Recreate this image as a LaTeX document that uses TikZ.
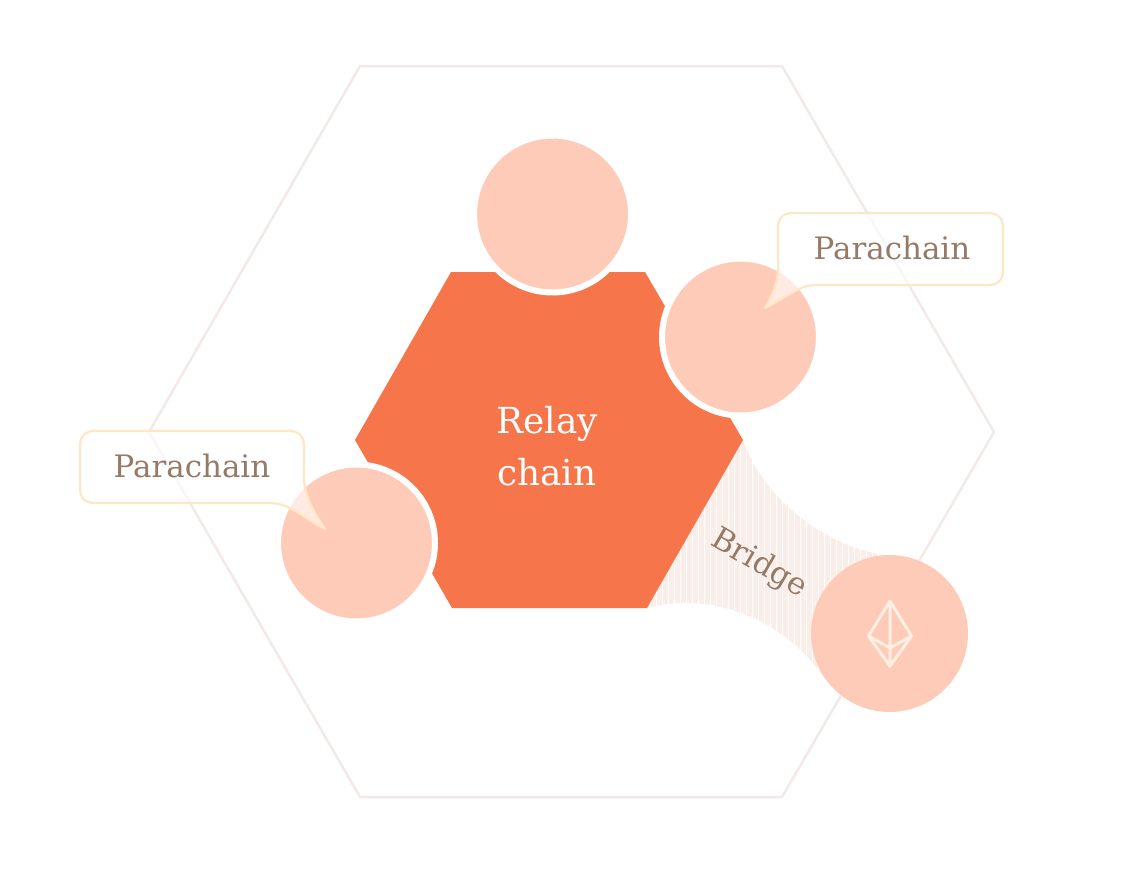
\documentclass[tikz,border=0pt]{standalone}
\usepackage{fontspec}
\setmainfont{DejaVu Serif}
\definecolor{orangeC}{HTML}{F6754A}
\definecolor{peachC}{HTML}{FFCBB9}
\definecolor{outerC}{HTML}{F3E9E9}
\definecolor{stripeC}{HTML}{FBEEE9}
\definecolor{calloutC}{HTML}{FFE7C6}
\definecolor{textC}{HTML}{967A68}
\definecolor{ethC}{HTML}{FFEFE0}
\tikzset{
  x=0.02cm,y=-0.02cm,
  parablob/.style={circle,inner sep=0pt,minimum size=3.14cm,fill=peachC,draw=white,line width=0.12cm},
  callout/.style={draw=calloutC,line width=0.045cm,fill=white,fill opacity=0.62,line join=round},
  calltext/.style={text=textC,font=\fontsize{17.6}{22}\selectfont,inner sep=0pt},
}
\begin{document}
\begin{tikzpicture}
\useasboundingbox (0,0) rectangle (1135,873);
\fill[white] (0,0) rectangle (1135,873);
% outer hexagon
\draw[outerC,line width=0.05cm,line join=round] (360,66) -- (782,66) -- (994,432) -- (782,797) -- (360,797) -- (149,432) -- cycle;
% bridge band
\begin{scope}
\clip (743,440) .. controls (760,490) and (815,545) .. (889,556)
  -- (889,700) -- (822,675)
  .. controls (785,622) and (715,590) .. (647,608) -- cycle;
\fill[white] (640,430) rectangle (895,710);
\foreach \sx in {645,651,...,890}
  \fill[stripeC] (\sx,430) rectangle ++(4.5,280);
\end{scope}
% relay chain hexagon
\fill[orangeC] (451,272) -- (645,272) -- (743,440) -- (647,608) -- (452,608) -- (355,440) -- cycle;
\node[text=white,font=\fontsize{20.4}{29.5}\selectfont,align=center,inner sep=0pt] (relay) at (547,446) {Relay\\chain};
% parachains
\node[parablob] (paraTop) at (552.5,214) {};
\node[parablob] (paraRight) at (740.5,337) {};
\node[parablob] (paraLeft) at (356.5,543) {};
% bridged chain
\node[circle,inner sep=0pt,minimum size=3.14cm,fill=peachC] (bridgeChain) at (889.5,633.5) {};
\draw[ethC,line width=0.06cm,line join=round,line cap=round]
  (890,601) -- (868.5,636) -- (890,666) -- (911.5,636) -- cycle
  (890,601) -- (890,666)
  (868.5,636) -- (890,648) -- (911.5,636);
\node[text=textC,font=\fontsize{17.6}{22}\selectfont,rotate=-30,inner sep=0pt] (bridge) at (759,564) {Bridge};
% callouts
\path[callout] (793,213) -- (988,213) .. controls (998,213) and (1003,218) .. (1003,228)
  -- (1003,270) .. controls (1003,280) and (998,285) .. (988,285)
  -- (815,285) .. controls (800,285) and (785,298) .. (765,308)
  .. controls (772,295) and (780,282) .. (778,258)
  -- (778,228) .. controls (778,218) and (783,213) .. (793,213) -- cycle;
\node[calltext] (callRight) at (892,247.5) {Parachain};
\path[callout] (95,431) -- (289,431) .. controls (299,431) and (304,436) .. (304,446)
  -- (304,478) .. controls (304,497) and (316,515) .. (325,529)
  .. controls (305,519) and (290,503) .. (270,503)
  -- (95,503) .. controls (85,503) and (80,498) .. (80,488)
  -- (80,446) .. controls (80,436) and (85,431) .. (95,431) -- cycle;
\node[calltext] (callLeft) at (192,465.5) {Parachain};
\end{tikzpicture}
\end{document}
